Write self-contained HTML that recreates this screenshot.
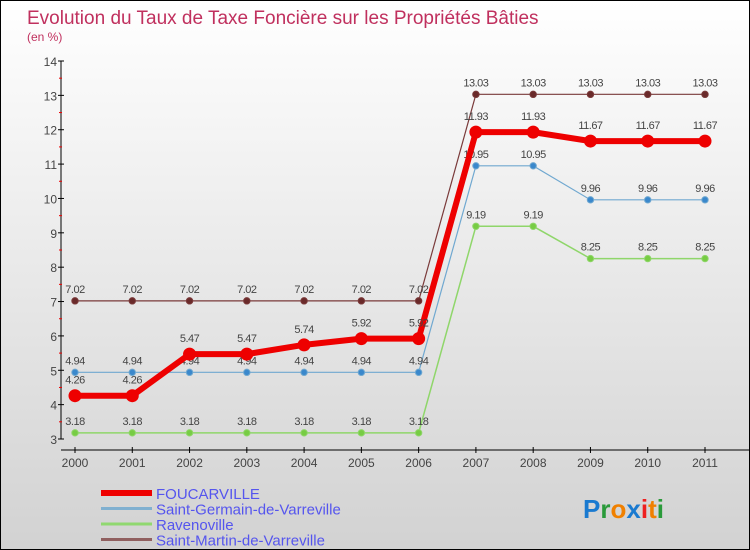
<!DOCTYPE html>
<html><head><meta charset="utf-8"><style>
html,body{margin:0;padding:0}
body{width:750px;height:550px;overflow:hidden;font-family:"Liberation Sans",sans-serif}
#wrap{position:relative;width:748px;height:548px;border:1px solid #000;background:linear-gradient(#ffffff,#d2d2d2)}
svg{position:absolute;left:0;top:0}
</style></head><body>
<div id="wrap">
<svg id="chart" width="748" height="548"></svg>
</div>
<script>
const years=[2000,2001,2002,2003,2004,2005,2006,2007,2008,2009,2010,2011];
const foucarville=[4.26,4.26,5.47,5.47,5.74,5.92,5.92,11.93,11.93,11.67,11.67,11.67];
const stGermain=[4.94,4.94,4.94,4.94,4.94,4.94,4.94,10.95,10.95,9.96,9.96,9.96];
const ravenoville=[3.18,3.18,3.18,3.18,3.18,3.18,3.18,9.19,9.19,8.25,8.25,8.25];
const stMartin=[7.02,7.02,7.02,7.02,7.02,7.02,7.02,13.03,13.03,13.03,13.03,13.03];
const yTicks=[3,4,5,6,7,8,9,10,11,12,13,14];
const seriesNames=["FOUCARVILLE","Saint-Germain-de-Varreville","Ravenoville","Saint-Martin-de-Varreville"];

const NS="http://www.w3.org/2000/svg";
const svg=document.getElementById('chart');
function x(i){return 74+i*(630/11);}
function y(v){return 438-(v-3)*(378/11);}
function el(tag,attrs,parent){const e=document.createElementNS(NS,tag);for(const k in attrs)e.setAttribute(k,attrs[k]);(parent||svg).appendChild(e);return e;}
function txt(s,attrs,parent){const t=el('text',attrs,parent);t.textContent=s;return t;}

const title=txt("Evolution du Taux de Taxe Foncière sur les Propriétés Bâties",{x:26,y:23,fill:"#c0305e","font-size":19});


const sub=txt("(en %)",{x:26,y:40,fill:"#c0305e","font-size":12});



// axes
const yAxis=el('line',{x1:60,y1:y(14),x2:60,y2:y(3),stroke:"#000","stroke-width":1});


yTicks.forEach(v=>{
  el('line',{x1:57,x2:63,y1:y(v),y2:y(v),stroke:"#000"});
  if(v<14){const m=el('line',{x1:58,x2:61,y1:y(v+0.5),y2:y(v+0.5),stroke:"#e00"});}
  const t=txt(String(v),{x:56,y:y(v)+5,"text-anchor":"end","font-size":12,fill:"#444"});
  
  
});
const xAxis=el('line',{x1:60,y1:449,x2:748,y2:449,stroke:"#000","stroke-width":1});


years.forEach((yr,i)=>{
  el('line',{x1:x(i),x2:x(i),y1:446,y2:452,stroke:"#000"});
  const t=txt(String(yr),{x:x(i),y:466,"text-anchor":"middle","font-size":12,fill:"#444"});
  
  
});

function series(data,color,dot,lw,r,name,dy){
  const g=el('g',{});
  
  
  const pts=data.map((v,i)=>x(i)+","+y(v)).join(" ");
  el('polyline',{points:pts,fill:"none",stroke:color,"stroke-width":lw},g);
  data.forEach((v,i)=>{
    const c=el('circle',{cx:x(i),cy:y(v),r:r,fill:dot,stroke:color,"stroke-width":1},g);
    
    
    const t=txt(String(v),{x:x(i),y:y(v)+dy,"text-anchor":"middle","font-size":11,fill:"#444","letter-spacing":"-0.5"},g);
    
    
  });
}
series(stMartin,"#7a3a3a","#6a2a2a",1.2,3.2,"series-saint-martin",-8);
series(ravenoville,"#8fd66a","#77cc44",1.5,3.2,"series-ravenoville",-8);
series(stGermain,"#70a8d0","#3a88cc",1.2,3.2,"series-saint-germain",-8);
series(foucarville,"#ee0000","#ee0000",6,6,"series-foucarville",-12);

// legend
const colors=["#ee0000","#80b0d0","#90d870","#906060"];
const widths=[6,3,3,3];
seriesNames.forEach((n,i)=>{
  const g=el('g',{});
  
  
  const ly=492+i*15.5;
  el('line',{x1:100,x2:151,y1:ly,y2:ly,stroke:colors[i],"stroke-width":widths[i]},g);
  txt(n,{x:155,y:ly+6,"font-size":15,fill:"#5555ee"},g);
});
// logo
const logo=el('text',{x:582,y:517,"font-size":26,"font-weight":"bold","font-family":"Liberation Sans, sans-serif"});


[["P","#1a7ad0"],["r","#2a9a3a"],["o","#f08000"],["x","#1a7ad0"],["i","#ee2020"],["t","#f08000"],["i","#2a9a3a"]].forEach(([c,f])=>{
  const s=el('tspan',{fill:f},logo);s.textContent=c;
});
</script>
</body></html>
